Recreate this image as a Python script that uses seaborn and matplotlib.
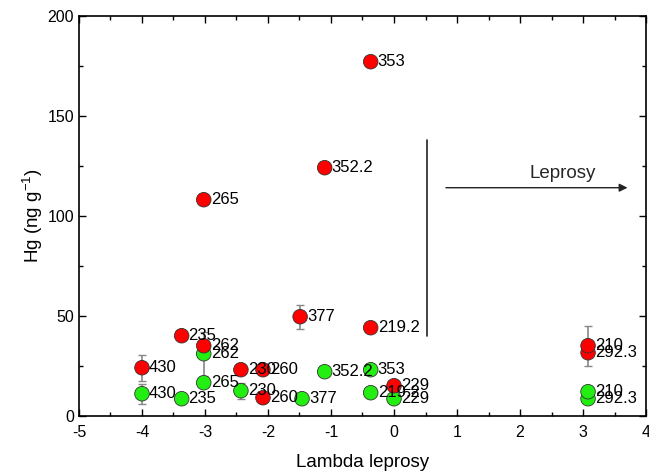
import numpy as np
import pandas as pd
import matplotlib
matplotlib.use("Agg")
import matplotlib.pyplot as plt
import seaborn as sns
from matplotlib.ticker import MultipleLocator

# ---- data ----
red_x = [-0.37, -1.10, -3.02, -1.49, -0.37, -3.37, -3.02, -4.00, -2.43, -2.08, 3.08, 3.08, 0.00, -2.08]
red_y = [177, 124, 108, 49.5, 44, 40, 35, 24, 23, 23, 35, 31.5, 15, 9]
red_err = [0, 0, 0, 6, 0, 0, 0, 6.5, 0, 0, 10, 0, 3, 0]
red_lab = ["353", "352.2", "265", "377", "219.2", "235", "262", "430", "230", "260", "210", "292.3", "229", "260"]

green_x = [-3.02, -3.02, -4.00, -3.37, -2.43, -1.46, -1.10, -0.37, -0.37, 0.00, 3.08, 3.08]
green_y = [31, 16.5, 11, 8.5, 12.5, 8.5, 22, 23, 11.5, 8.5, 12, 8.5]
green_err = [11, 0, 5, 0, 4, 0, 0, 0, 0, 0, 0, 0]
green_lab = ["262", "265", "430", "235", "230", "377", "352.2", "353", "219.2", "229", "210", "292.3"]

x_label = "Lambda leprosy"
y_label = "Hg (ng g$^{-1}$)"
annot_text = "Leprosy"

df = pd.DataFrame({
    "x": red_x + green_x,
    "y": red_y + green_y,
    "err": red_err + green_err,
    "lab": red_lab + green_lab,
    "grp": ["red"] * len(red_x) + ["green"] * len(green_x),
})

sns.set_style("ticks")
plt.rcParams['font.family'] = ['Liberation Sans', 'DejaVu Sans']
plt.rcParams['axes.unicode_minus'] = False
plt.rcParams['mathtext.fontset'] = 'custom'
plt.rcParams['mathtext.rm'] = 'Liberation Sans'
plt.rcParams['mathtext.it'] = 'Liberation Sans'

fig = plt.figure(figsize=(6.49, 4.73), dpi=100)
ax = fig.add_axes([0.1217, 0.1211, 0.8737, 0.8457])

# error bars
sub = df[df["err"] > 0]
ax.errorbar(sub["x"], sub["y"], yerr=sub["err"], fmt="none", ecolor="#888888",
            elinewidth=1.2, capsize=3, capthick=1, zorder=1)

palette = {"red": "#ff0000", "green": "#22ee11"}
sns.scatterplot(data=df.iloc[::-1], x="x", y="y", hue="grp", palette=palette, s=110,
                edgecolor="#333333", linewidth=0.6, legend=False, ax=ax, zorder=3)

for _, r in df.iterrows():
    ax.annotate(r["lab"], (r["x"], r["y"]), xytext=(5, 0), textcoords="offset points",
                va="center", ha="left", fontsize=12, color="black", zorder=4)

# vertical line and arrow
ax.plot([0.52, 0.52], [40, 138], color="#222222", lw=1.2)
ax.annotate("", xy=(3.75, 114), xytext=(0.78, 114),
            arrowprops=dict(arrowstyle="-|>", color="#222222", lw=1.0, mutation_scale=12))
ax.text(2.68, 117, annot_text, ha="center", va="bottom", fontsize=13.5)

ax.set_xlim(-5, 4)
ax.set_ylim(0, 200)
ax.xaxis.set_major_locator(MultipleLocator(1))
ax.xaxis.set_minor_locator(MultipleLocator(0.5))
ax.yaxis.set_major_locator(MultipleLocator(50))
ax.yaxis.set_minor_locator(MultipleLocator(25))
ax.tick_params(which="both", direction="in", top=True, right=True, labelsize=11.5,
               colors="black")
ax.tick_params(axis="x", pad=7)
ax.tick_params(which="major", length=5, width=1)
ax.tick_params(which="minor", length=3, width=1)
for s in ax.spines.values():
    s.set_linewidth(1.2)
    s.set_color("black")
ax.set_xlabel(x_label, fontsize=13.5, labelpad=10, color="black")
ax.set_ylabel(y_label, fontsize=13.5, labelpad=2, color="black")

fig.savefig("out.png", dpi=100)
